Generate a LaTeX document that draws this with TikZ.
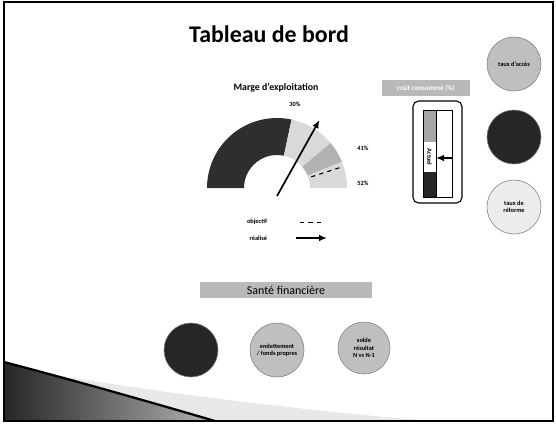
\documentclass[tikz,border=0pt]{standalone}
\usepackage{fontspec}
\setmainfont{Carlito}
\usetikzlibrary{arrows.meta,positioning,calc}
\tikzset{
  ttl/.style={font=\bfseries\fontsize{17}{19}\selectfont},
  sub/.style={font=\bfseries\fontsize{7}{8}\selectfont},
  tiny/.style={font=\bfseries\fontsize{4.5}{5}\selectfont, inner sep=0.5pt},
  band/.style={fill=gray!55, inner sep=0pt, align=center},
  kpi/.style={circle, draw=black!50, minimum size=1.35cm, inner sep=0pt, align=center, font=\bfseries\fontsize{4.5}{5.2}\selectfont},
  arrow/.style={-{Latex[length=2mm,width=1.7mm]}, very thick},
}
\newcommand{\gaugeseg}[3]{%
  \fill[#3] (#1:33) arc[start angle=#1, end angle=#2, radius=33]
    -- (#2:70) arc[start angle=#2, end angle=#1, radius=70] -- cycle;}

\begin{document}
\begin{tikzpicture}[x=0.025cm, y=-0.025cm]
\useasboundingbox (0,0) rectangle (556,424);
\fill[white] (0,0) rectangle (556,424);

% swoosh bas gauche
\fill[gray!18] (40,372) .. controls (150,392) and (300,410) .. (430,421) -- (4,421) -- cycle;
\shade[left color=black!85, right color=gray!60] (4,362) .. controls (80,382) and (150,402) .. (215,421) -- (4,421) -- cycle;
\draw[line width=1.6pt] (4,362) .. controls (80,382) and (150,402) .. (215,421);
\draw[thick] (4,2) rectangle (553,421);

\node[ttl] (title) at (269,34) {Tableau de bord};

% jauge
\node[sub] (marge) at (276,88) {Marge d'exploitation};
\begin{scope}[shift={(277,188)}, x=0.025cm, y=0.025cm]
  \gaugeseg{180}{78}{black!82}
  \gaugeseg{78}{40}{gray!30}
  \gaugeseg{40}{22}{gray!60}
  \gaugeseg{22}{0}{gray!30}
  \coordinate (obj0) at (18:36);
  \coordinate (obj1) at (18:68);
  \coordinate (needle0) at (0,-8);
  \coordinate (needle1) at (58:80);
\end{scope}
\draw[dashed, thick] (obj0) -- (obj1);
\draw[arrow] (needle0) -- (needle1);
\node[tiny] (p30) at (295,104) {30\%};
\node[tiny] (p41) at (363,148) {41\%};
\node[tiny] (p52) at (363,183) {52\%};

% legende
\node[tiny, anchor=east] (objectif) at (268,222) {objectif};
\node[tiny, anchor=east] (realise) at (268,238) {réalisé};
\coordinate (dash0) at (300,222);
\coordinate (dash1) at (322,222);
\coordinate (real0) at (296,238);
\coordinate (real1) at (327,238);
\draw[dashed, thin] (dash0) -- (dash1);
\draw[arrow] (real0) -- (real1);

% thermometre
\node[band, text=white, minimum width=2.2cm, minimum height=0.4cm, font=\bfseries\fontsize{5}{6}\selectfont] (cout) at (426,88) {coût consommé (\%)};
\draw[thick, rounded corners=4pt] (413,101) rectangle (462,203);
\fill[gray!70] (423,110) rectangle (436,142);
\fill[black!85] (423,172) rectangle (436,197);
\draw[thin] (423,110) rectangle (452,197);
\draw[thin] (436,110) -- (436,197);
\node[tiny, rotate=-90] (actuel) at (429.5,157) {Actuel};
\coordinate (therm0) at (452,158);
\coordinate (therm1) at (436,158);
\draw[arrow] (therm0) -- (therm1);

% indicateurs droite
\node[kpi, fill=gray!50] (acces) at (514,64) {taux d'accès};
\node[kpi, fill=black!85] (kpi2) at (514,137) {};
\node[kpi, fill=gray!15] (reforme) at (514,207) {taux de\\réforme};

% sante financiere
\node[band, minimum width=4.3cm, minimum height=0.4cm, font=\fontsize{8.5}{9}\selectfont] (sante) at (286,290) {Santé financière};
\node[kpi, fill=black!85] (sf1) at (191,350) {};
\node[kpi, fill=gray!50] (sf2) at (277,350) {endettement\\/ fonds propres};
\node[kpi, fill=gray!50, minimum size=1.3cm] (sf3) at (364,348) {solde\\résultat\\N vs N-1};
\end{tikzpicture}
\end{document}
